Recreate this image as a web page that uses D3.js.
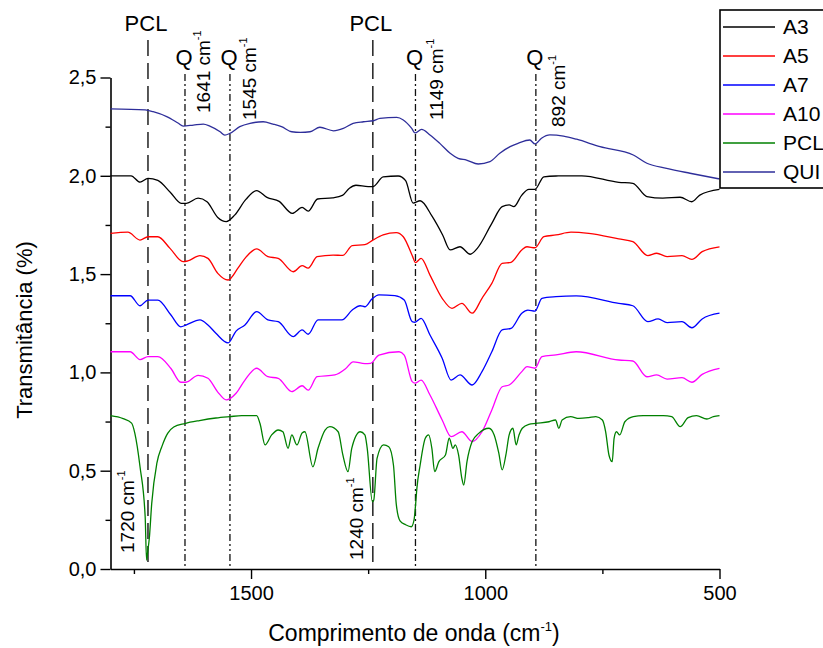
<!DOCTYPE html>
<html>
<head>
<meta charset="utf-8">
<script src="https://cdn.jsdelivr.net/npm/d3@7"></script>
<style>
  body { margin: 0; background: #fff; }
  text { font-family: "Liberation Sans", Arial, sans-serif; fill: #000; }
</style>
</head>
<body>
<div id="chart"></div>
<script>
// spectra, [wavenumber, transmittance]
var a3 = [[1800,2.000],[1756,2.000],[1737,1.968],[1720,1.987],[1699,1.977],[1672,1.915],[1649,1.860],[1638,1.860],[1613,1.886],[1594,1.868],[1571,1.788],[1553,1.767],[1535,1.800],[1511,1.880],[1488,1.925],[1466,1.890],[1440,1.870],[1412,1.809],[1391,1.839],[1378,1.820],[1358,1.882],[1326,1.888],[1305,1.900],[1290,1.937],[1276,1.952],[1250,1.945],[1240,1.945],[1218,1.994],[1186,1.999],[1170,1.975],[1154,1.861],[1139,1.873],[1113,1.792],[1091,1.699],[1075,1.623],[1054,1.639],[1032,1.601],[1017,1.631],[986,1.758],[964,1.843],[949,1.852],[939,1.843],[922,1.902],[907,1.931],[894,1.931],[875,1.995],[849,1.999],[794,2.000],[715,1.967],[685,1.962],[655,1.894],[621,1.886],[584,1.891],[559,1.868],[542,1.902],[500,1.931]];

var a5 = [[1800,1.707],[1763,1.713],[1737,1.673],[1720,1.690],[1699,1.690],[1673,1.631],[1645,1.563],[1635,1.567],[1609,1.594],[1592,1.580],[1571,1.504],[1549,1.470],[1528,1.530],[1513,1.580],[1488,1.628],[1464,1.589],[1442,1.580],[1410,1.512],[1391,1.543],[1378,1.530],[1359,1.589],[1325,1.597],[1304,1.595],[1284,1.645],[1257,1.650],[1240,1.673],[1218,1.699],[1190,1.711],[1175,1.690],[1155,1.589],[1149,1.558],[1137,1.580],[1118,1.495],[1092,1.377],[1071,1.326],[1050,1.351],[1028,1.301],[1007,1.377],[986,1.453],[964,1.555],[945,1.560],[922,1.623],[911,1.639],[894,1.634],[875,1.690],[849,1.699],[817,1.713],[779,1.707],[715,1.679],[685,1.665],[653,1.594],[634,1.606],[612,1.589],[580,1.594],[559,1.575],[537,1.614],[500,1.639]];

var a7 = [[1800,1.390],[1758,1.390],[1737,1.339],[1720,1.368],[1699,1.368],[1671,1.292],[1650,1.232],[1639,1.241],[1609,1.267],[1592,1.241],[1575,1.199],[1549,1.150],[1532,1.210],[1513,1.241],[1488,1.309],[1464,1.267],[1442,1.258],[1410,1.182],[1391,1.216],[1378,1.194],[1357,1.267],[1306,1.267],[1284,1.317],[1267,1.339],[1257,1.334],[1242,1.373],[1227,1.394],[1193,1.390],[1173,1.368],[1156,1.258],[1150,1.255],[1137,1.275],[1118,1.190],[1092,1.072],[1073,0.961],[1054,0.987],[1028,0.936],[1007,1.004],[986,1.105],[964,1.216],[945,1.224],[922,1.301],[909,1.317],[894,1.312],[879,1.377],[849,1.385],[806,1.389],[715,1.351],[685,1.339],[653,1.258],[631,1.272],[612,1.253],[580,1.258],[559,1.227],[537,1.272],[500,1.301]];

var a10 = [[1800,1.105],[1758,1.105],[1737,1.065],[1720,1.080],[1699,1.080],[1671,1.020],[1650,0.950],[1639,0.950],[1613,0.985],[1592,0.970],[1571,0.900],[1553,0.860],[1532,0.894],[1513,0.961],[1488,1.021],[1464,0.978],[1442,0.970],[1413,0.902],[1391,0.932],[1378,0.910],[1359,0.978],[1321,0.987],[1299,1.017],[1282,1.054],[1257,1.045],[1245,1.046],[1227,1.088],[1184,1.105],[1173,1.088],[1156,0.953],[1150,0.945],[1137,0.961],[1118,0.885],[1092,0.758],[1073,0.673],[1050,0.698],[1028,0.648],[1007,0.698],[986,0.809],[964,0.927],[949,0.936],[922,1.004],[911,1.029],[894,1.021],[879,1.080],[849,1.089],[806,1.105],[715,1.063],[685,1.058],[655,0.978],[634,0.987],[612,0.966],[580,0.973],[559,0.950],[537,0.990],[500,1.021]];

var pcl = [[1800,0.780],[1773,0.765],[1755,0.742],[1748,0.690],[1737,0.520],[1726,0.266],[1723,0.045],[1721,0.080],[1717,0.160],[1712,0.334],[1701,0.538],[1690,0.625],[1678,0.690],[1665,0.722],[1641,0.740],[1610,0.755],[1575,0.768],[1545,0.775],[1520,0.780],[1488,0.780],[1481,0.741],[1470,0.631],[1456,0.682],[1442,0.707],[1432,0.698],[1421,0.614],[1413,0.682],[1402,0.631],[1391,0.692],[1385,0.698],[1368,0.520],[1357,0.614],[1342,0.707],[1332,0.724],[1314,0.698],[1304,0.580],[1293,0.495],[1285,0.614],[1267,0.698],[1257,0.682],[1252,0.614],[1241,0.342],[1238,0.351],[1231,0.563],[1217,0.631],[1206,0.622],[1196,0.529],[1190,0.330],[1182,0.245],[1170,0.225],[1158,0.215],[1152,0.250],[1149,0.320],[1146,0.410],[1139,0.529],[1128,0.665],[1121,0.682],[1114,0.614],[1108,0.495],[1099,0.546],[1085,0.580],[1077,0.665],[1069,0.614],[1064,0.631],[1057,0.580],[1050,0.461],[1046,0.427],[1039,0.546],[1028,0.648],[1014,0.690],[992,0.716],[981,0.682],[971,0.588],[964,0.504],[956,0.580],[949,0.682],[941,0.716],[934,0.631],[928,0.682],[921,0.716],[907,0.736],[892,0.741],[864,0.749],[850,0.758],[843,0.716],[836,0.758],[818,0.775],[800,0.766],[779,0.770],[764,0.775],[750,0.758],[743,0.698],[736,0.580],[729,0.546],[725,0.665],[720,0.698],[713,0.682],[702,0.749],[684,0.775],[663,0.780],[620,0.780],[602,0.775],[584,0.724],[567,0.770],[549,0.780],[527,0.763],[513,0.775],[500,0.780]];

var qui = [[1800,2.340],[1726,2.335],[1709,2.326],[1680,2.301],[1655,2.267],[1645,2.253],[1623,2.258],[1602,2.263],[1588,2.253],[1566,2.224],[1556,2.207],[1545,2.216],[1524,2.250],[1502,2.267],[1474,2.275],[1453,2.263],[1435,2.250],[1413,2.224],[1395,2.221],[1374,2.224],[1353,2.247],[1324,2.229],[1303,2.241],[1282,2.267],[1260,2.275],[1239,2.280],[1225,2.292],[1189,2.297],[1175,2.284],[1157,2.241],[1150,2.218],[1136,2.236],[1118,2.208],[1097,2.165],[1075,2.115],[1058,2.089],[1040,2.080],[1015,2.060],[990,2.072],[969,2.115],[947,2.148],[930,2.165],[905,2.182],[894,2.162],[880,2.191],[862,2.208],[833,2.202],[805,2.186],[755,2.148],[684,2.106],[655,2.064],[613,2.038],[563,2.013],[500,1.984]];

var seriesNames = ["A3", "A5", "A7", "A10", "PCL", "QUI"];
var seriesData = [a3, a5, a7, a10, pcl, qui];
var seriesColors = ["#000000", "#ff0000", "#0000ff", "#ff00ff", "#008000", "#2e2e9a"];

var xMajor = [1500, 1000, 500];
var xMinor = [1750, 1250, 750];
var yMajor = [0, 0.5, 1.0, 1.5, 2.0, 2.5];
var yMinor = [0.25, 0.75, 1.25, 1.75, 2.25];

// reference bands
var pclLines = [1720, 1240];
var qLines = [1641, 1545, 1149, 892];
var qLabels = ["1641", "1545", "1149", "892"];
var pclLabels = ["1720", "1240"];

var W = 823, H = 648;
var svg = d3.select("#chart").append("svg")
  .attr("width", W).attr("height", H);

var x = d3.scaleLinear().domain([1800, 500]).range([110.5, 719.5]);
var y = d3.scaleLinear().domain([0, 2.5]).range([569, 77.5]);

var comma = function(d) { return d.toFixed(1).replace(".", ","); };

// axes
var gx = svg.append("g").attr("transform", "translate(0,569)");
gx.call(d3.axisBottom(x).tickValues(xMajor).tickSize(10).tickSizeOuter(0).tickPadding(7).tickFormat(d3.format("d")));
svg.append("g").attr("transform", "translate(0,569)")
  .call(d3.axisBottom(x).tickValues(xMinor).tickSize(5).tickFormat(""))
  .call(function(g) { g.select(".domain").remove(); });

var gy = svg.append("g").attr("transform", "translate(110.5,0)");
gy.call(d3.axisLeft(y).tickValues(yMajor).tickSize(10).tickSizeOuter(0).tickPadding(4).tickFormat(comma));
svg.append("g").attr("transform", "translate(110.5,0)")
  .call(d3.axisLeft(y).tickValues(yMinor).tickSize(5).tickFormat(""))
  .call(function(g) { g.select(".domain").remove(); });

svg.selectAll(".domain").attr("stroke-width", 1.6);
svg.selectAll(".tick line").attr("stroke-width", 1.4);
svg.selectAll(".tick text").attr("font-size", 20).attr("fill", "#222");

// vertical markers
svg.selectAll(".pcl-line").data(pclLines).enter().append("line")
  .attr("x1", function(d) { return x(d); }).attr("x2", function(d) { return x(d); })
  .attr("y1", 40).attr("y2", y(0))
  .attr("stroke", "#111").attr("stroke-width", 1.4).attr("stroke-dasharray", "16,7");

var qDash = ["7,3,2,3", "7,3,2,3,2,3", "7,3,2,3", "7,3,2,3"];
svg.selectAll(".q-line").data(qLines).enter().append("line")
  .attr("x1", function(d) { return x(d); }).attr("x2", function(d) { return x(d); })
  .attr("y1", 74).attr("y2", y(0))
  .attr("stroke", "#111").attr("stroke-width", 1.3)
  .attr("stroke-dasharray", function(d, i) { return qDash[i]; });

// spectra
var line = d3.line().curve(d3.curveMonotoneX)
  .x(function(d) { return x(d[0]); }).y(function(d) { return y(d[1]); });
svg.selectAll(".spec").data(seriesData).enter().append("path")
  .attr("d", line).attr("fill", "none")
  .attr("stroke", function(d, i) { return seriesColors[i]; })
  .attr("stroke-width", 1.3).attr("stroke-linejoin", "round");

// marker labels
pclLines.forEach(function(w) {
  svg.append("text").attr("x", x(w) - 2).attr("y", 31)
    .attr("text-anchor", "middle").attr("font-size", 22).text("PCL");
});
qLines.forEach(function(w) {
  svg.append("text").attr("x", x(w) - 1).attr("y", 65)
    .attr("text-anchor", "middle").attr("font-size", 22).text("Q");
});

function rotLabel(px, py, txt) {
  var t = svg.append("text")
    .attr("transform", "translate(" + px + "," + py + ") rotate(-90)")
    .attr("font-size", 19).attr("fill", "#111");
  t.append("tspan").text(txt + " cm");
  t.append("tspan").attr("font-size", 11).attr("dy", -9).text("-1");
}
var qOff = [25, 26, 28, 29], qStart = [113, 120, 120, 127];
qLines.forEach(function(w, i) { rotLabel(x(w) + qOff[i], qStart[i], qLabels[i]); });
var pOff = [-14, -10], pStart = [553, 560];
pclLines.forEach(function(w, i) { rotLabel(x(w) + pOff[i], pStart[i], pclLabels[i]); });

// axis titles
var xt = svg.append("text").attr("x", 414).attr("y", 641)
  .attr("text-anchor", "middle").attr("font-size", 23);
xt.append("tspan").text("Comprimento de onda (cm");
xt.append("tspan").attr("font-size", 13).attr("dy", -10).text("-1");
xt.append("tspan").attr("dy", 10).text(")");

svg.append("text").attr("transform", "translate(32,330) rotate(-90)")
  .attr("text-anchor", "middle").attr("font-size", 22).text("Transmitância (%)");

// legend
var leg = svg.append("g");
leg.append("rect").attr("x", 720).attr("y", 10).attr("width", 130).attr("height", 178)
  .attr("fill", "#fff").attr("stroke", "#000").attr("stroke-width", 1.6);
seriesNames.forEach(function(n, i) {
  var ly = 27 + i * 29;
  leg.append("line").attr("x1", 723).attr("x2", 775).attr("y1", ly).attr("y2", ly)
    .attr("stroke", seriesColors[i]).attr("stroke-width", 1.3);
  leg.append("text").attr("x", 783).attr("y", ly + 7).attr("font-size", 21).text(n);
});
</script>
</body>
</html>
